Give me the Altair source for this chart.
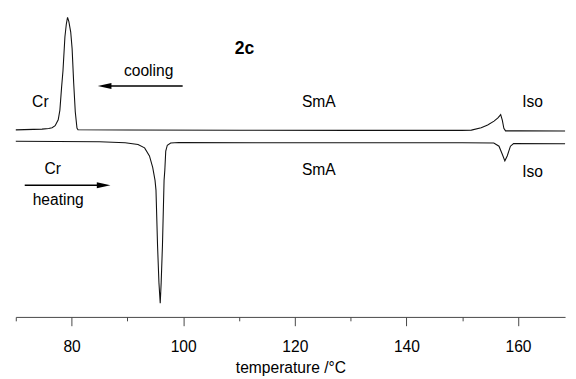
import altair as alt
import pandas as pd

# ---- data (temperature in degC, heat flow in arbitrary units) ----
cool_T = [70.0, 74.7, 75.9, 76.5, 77.05, 77.6, 77.9, 78.2, 78.45, 78.8, 79.05, 79.27, 79.5,
          79.84, 80.09, 80.37, 80.66, 80.96, 81.14, 90.0, 110.0, 130.0, 149.9, 151.64,
          153.4, 154.56, 155.7, 156.4, 156.89, 157.18, 157.46, 157.76, 160.38, 168.43]
cool_Q = [19.17, 19.25, 19.32, 19.40, 19.60, 20.2, 21.2, 23.5, 25.2, 28.7, 30.0, 30.7, 30.3,
          29.2, 27.5, 24.0, 21.0, 19.35, 19.18, 19.16, 19.14, 19.12, 19.12, 19.15,
          19.4, 19.67, 20.07, 20.4, 20.73, 20.17, 19.33, 19.07, 19.07, 19.05]

heat_T = [70.0, 85.0, 89.6, 91.9, 93.08, 93.95, 94.53, 94.95, 95.12, 95.40, 95.65, 95.88,
          96.05, 96.28, 96.57, 96.7, 96.87, 97.15, 97.75, 99.2, 120.0, 150.0, 155.66,
          156.59, 157.18, 157.64, 158.06, 158.64, 159.2, 168.43]
heat_Q = [18.0, 17.95, 17.85, 17.67, 17.33, 16.5, 15.33, 14.0, 13.0, 7.33, 3.5, 1.4,
          3.5, 7.33, 14.0, 15.0, 17.0, 17.6, 17.83, 17.87, 17.85, 17.85, 17.83,
          17.5, 16.67, 16.0, 16.5, 17.5, 17.77, 17.75]

label_text = ["Cr", "SmA", "Iso", "Cr", "SmA", "Iso", "cooling", "heating"]
label_T = [74.4, 124.3, 162.6, 76.6, 124.3, 162.6, 93.8, 77.6]
label_Q = [22.0, 22.0, 22.0, 15.1, 15.0, 14.8, 25.2, 12.0]

title_text = ["2c"]
title_T = [111.0]
title_Q = [27.5]

arrow_name = ["cooling", "heating"]
arrow_tail_T = [99.9, 71.6]
arrow_tip_T = [84.69, 86.96]
arrow_Q = [23.67, 13.5]
arrow_dir = ["left", "right"]

tick_values = list(range(70, 170, 5))

# ---- tables ----
curves = pd.concat([
    pd.DataFrame({"T": cool_T, "Q": cool_Q, "run": "cooling"}),
    pd.DataFrame({"T": heat_T, "Q": heat_Q, "run": "heating"}),
])
labels = pd.DataFrame({"T": label_T, "Q": label_Q, "text": label_text})
titles = pd.DataFrame({"T": title_T, "Q": title_Q, "text": title_text})
arrows = pd.DataFrame({"tail": arrow_tail_T, "tip": arrow_tip_T, "Q": arrow_Q, "dir": arrow_dir})
# arrow head centred half a head-length (7 px = 1.22 degC) behind the tip
arrows["head"] = [t + (1.22 if d == "left" else -1.22) for t, d in zip(arrows["tip"], arrows["dir"])]

FONT = "Liberation Sans"

xscale = alt.Scale(domain=[70, 168.43], nice=False, zero=False)
yscale = alt.Scale(domain=[0, 31.2], nice=False, zero=False)

xaxis = alt.Axis(
    values=tick_values,
    labelExpr="datum.value % 20 === 0 ? datum.label : ''",
    tickSize={"condition": {"test": "datum.value % 20 === 0", "value": 9}, "value": 4},
    labelOverlap=False,
    grid=False,
    domainColor="#444",
    tickColor="#444",
    domainWidth=1,
    tickWidth=1,
    labelColor="#000",
    labelFont=FONT,
    labelFontSize=16,
    labelPadding=13,
    title="temperature /°C",
    titleFont=FONT,
    titleFontSize=16,
    titleFontWeight="normal",
    titleColor="#000",
    titlePadding=6,
)

lines = alt.Chart(curves).mark_line(color="#111", strokeWidth=1.1, interpolate="linear").encode(
    x=alt.X("T:Q", scale=xscale, axis=xaxis),
    y=alt.Y("Q:Q", scale=yscale, axis=None),
    detail="run:N",
    order=alt.Order("T:Q"),
)

text = alt.Chart(labels).mark_text(font=FONT, fontSize=16, color="#000", baseline="middle", align="center").encode(
    x=alt.X("T:Q", scale=xscale),
    y=alt.Y("Q:Q", scale=yscale),
    text="text:N",
)

ttl = alt.Chart(titles).mark_text(font=FONT, fontSize=18, fontWeight="bold", color="#000", baseline="middle", align="center").encode(
    x=alt.X("T:Q", scale=xscale),
    y=alt.Y("Q:Q", scale=yscale),
    text="text:N",
)

shafts = alt.Chart(arrows).mark_rule(color="#000", strokeWidth=1.5).encode(
    x=alt.X("tail:Q", scale=xscale),
    x2="head:Q",
    y=alt.Y("Q:Q", scale=yscale),
)

heads_left = alt.Chart(arrows).transform_filter("datum.dir === 'left'").mark_point(
    shape="M-1,0 L1,-0.45 L1,0.45 Z", filled=True, color="#000", opacity=1, size=196, strokeWidth=0
).encode(x=alt.X("head:Q", scale=xscale), y=alt.Y("Q:Q", scale=yscale))

heads_right = alt.Chart(arrows).transform_filter("datum.dir === 'right'").mark_point(
    shape="M1,0 L-1,-0.45 L-1,0.45 Z", filled=True, color="#000", opacity=1, size=196, strokeWidth=0
).encode(x=alt.X("head:Q", scale=xscale), y=alt.Y("Q:Q", scale=yscale))

chart = alt.layer(lines, text, ttl, shafts, heads_left, heads_right).properties(
    width=563,
    height=312,
    padding={"left": 5, "top": 0, "right": 0, "bottom": 0},
    background="white",
).configure_view(stroke=None)

chart.save("out.html", embed_options={"renderer": "svg", "actions": False})
